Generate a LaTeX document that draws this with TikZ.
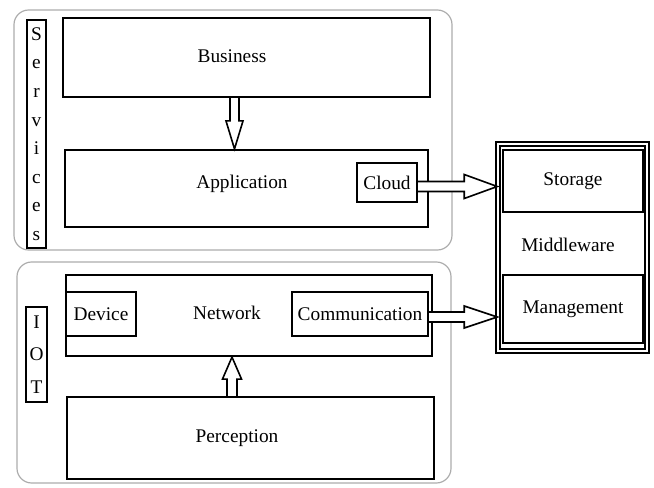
\documentclass[tikz,border=0pt]{standalone}
\usepackage{fontspec}
\setmainfont{Liberation Serif}
\usetikzlibrary{fit,calc}
\tikzset{
  box/.style={draw, line width=1.6pt, inner sep=0pt},
  outerbox/.style={draw=gray!65, line width=0.9pt, rounded corners=11pt, inner sep=0pt},
  mwbox/.style={draw, line width=1.1pt, double=white, double distance=2.2pt, inner sep=0pt},
  arr/.style={draw, line width=1.2pt, fill=white, line join=miter},
  lbl/.style={font=\fontsize{14.5}{17}\selectfont, inner sep=0pt},
  vlbl/.style={font=\fontsize{14.5}{21.4}\selectfont, align=center, inner sep=0pt},
  vlblb/.style={font=\fontsize{14.5}{24.4}\selectfont, align=center, inner sep=0pt}
}
\begin{document}
\begin{tikzpicture}[x=0.75pt,y=-0.75pt]
\useasboundingbox (0,0) rectangle (654,488);
% outer groups
\node[outerbox, fit={(14,10) (452,250)}] (svc) {};
\node[outerbox, fit={(17,262) (451,483)}] (iot) {};
% side labels
\node[box, fit={(27,20) (46,248)}] (svclbl) {};
\node[vlbl] (svct) at (svclbl.center) {S\\e\\r\\v\\i\\c\\e\\s};
\node[box, fit={(26,307) (47,402)}] (iotlbl) {};
\node[vlblb] (iott) at (iotlbl.center) {I\\O\\T};
% services layers
\node[box, fit={(63,18) (430,97)}] (business) {};
\node[lbl] (businesst) at (232,56) {Business};
\node[box, fit={(65,150) (428,227)}] (application) {};
\node[lbl] (applicationt) at (242,184) {Application};
\node[box, fit={(357,163) (417,202)}] (cloud) {};
\node[lbl] (cloudt) at (cloud.center) {Cloud};
% IoT layers
\node[box, fit={(66,275) (432,356)}] (network) {};
\node[lbl] (networkt) at (227,313) {Network};
\node[box, fit={(66,292) (136,336)}] (device) {};
\node[lbl] (devicet) at (device.center) {Device};
\node[box, fit={(292,292) (428,336)}] (comm) {};
\node[lbl] (commt) at (comm.center) {Communication};
\node[box, fit={(67,397) (434,479)}] (perception) {};
\node[lbl] (perceptiont) at (237,438) {Perception};
% middleware
\node[mwbox, fit={(498,144) (647,351)}] (mw) {};
\node[box, fit={(503,150) (643,212)}] (storage) {};
\node[lbl] (storaget) at (storage.center) {Storage};
\node[box, fit={(503,275) (643,343)}] (management) {};
\node[lbl] (managementt) at (management.center) {Management};
\node[lbl] (mwt) at (568,245) {Middleware};
% helper coordinates
\coordinate (ya) at (0,186.5);
\coordinate (yb) at (0,317);
\coordinate (xa) at (234.5,0);
\coordinate (xb) at (232,0);
% horizontal arrows
\draw[arr] ($(cloud.east |- ya)+(0,-5)$) -- ($(mw.west |- ya)+(-33,-5)$) -- ($(mw.west |- ya)+(-33,-12)$) -- (mw.west |- ya) -- ($(mw.west |- ya)+(-33,12)$) -- ($(mw.west |- ya)+(-33,5)$) -- ($(cloud.east |- ya)+(0,5)$);
\draw[arr] ($(comm.east |- yb)+(0,-5)$) -- ($(mw.west |- yb)+(-33,-5)$) -- ($(mw.west |- yb)+(-33,-11)$) -- (mw.west |- yb) -- ($(mw.west |- yb)+(-33,11)$) -- ($(mw.west |- yb)+(-33,5)$) -- ($(comm.east |- yb)+(0,5)$);
% vertical arrows
\draw[arr] ($(xa |- business.south)+(-4.5,0)$) -- ($(xa |- application.north)+(-4.5,-28)$) -- ($(xa |- application.north)+(-8.5,-28)$) -- (xa |- application.north) -- ($(xa |- application.north)+(8.5,-28)$) -- ($(xa |- application.north)+(4.5,-28)$) -- ($(xa |- business.south)+(4.5,0)$);
\draw[arr] ($(xb |- perception.north)+(-5,0)$) -- ($(xb |- network.south)+(-5,22)$) -- ($(xb |- network.south)+(-9.5,22)$) -- (xb |- network.south) -- ($(xb |- network.south)+(9.5,22)$) -- ($(xb |- network.south)+(5,22)$) -- ($(xb |- perception.north)+(5,0)$);
\end{tikzpicture}
\end{document}
